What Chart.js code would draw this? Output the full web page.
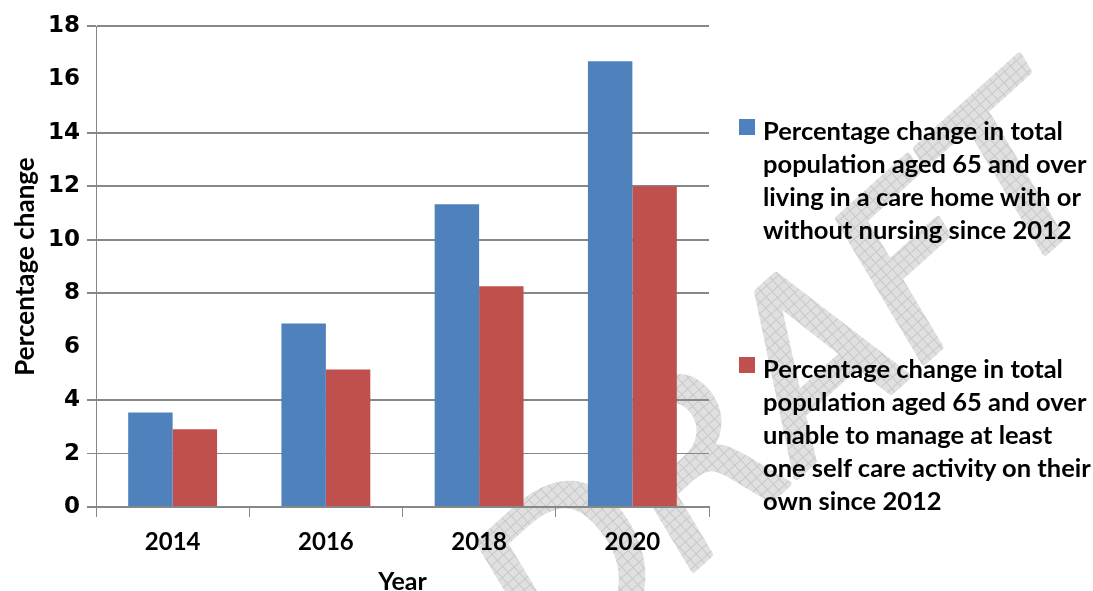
<!DOCTYPE html>
<html>
<head>
<meta charset="utf-8">
<title>Population aged 65 and over - percentage change since 2012</title>
<script src="https://cdn.jsdelivr.net/npm/chart.js@4.4.1/dist/chart.umd.min.js"></script>
<style>
    html, body { margin: 0; padding: 0; background: #fff; }
    #wrap { position: relative; width: 1093px; height: 591px; overflow: hidden; }
    #legend { position: absolute; left: 0; top: 0; font-family: Lato, sans-serif; font-weight: bold; font-size: 25.5px; line-height: 33px; color: #000; }
    .legend-item { position: absolute; left: 763px; white-space: nowrap; }
    .legend-swatch { position: absolute; width: 16px; height: 16px; left: -24px; top: 5px; }
</style>
</head>
<body>
<div id="wrap">
    <canvas id="careChart" width="1093" height="591"></canvas>
    <div id="legend"></div>
</div>
<script>
const years = ['2014', '2016', '2018', '2020'];
const careHomeChange = [3.54, 6.87, 11.33, 16.68];
const selfCareChange = [2.91, 5.15, 8.26, 12.0];
const yTickValues = [0, 2, 4, 6, 8, 10, 12, 14, 16, 18];

// series names, one entry per legend line
const careHomeLabel = [
    'Percentage change in total',
    'population aged 65 and over',
    'living in a care home with or',
    'without nursing since 2012'
];
const selfCareLabel = [
    'Percentage change in total',
    'population aged 65 and over',
    'unable to manage at least',
    'one self care activity on their',
    'own since 2012'
];

const axisGrey = '#878787';

// faint crosshatched "DRAFT" stamp behind the plot
function makeHatch() {
    const c = document.createElement('canvas');
    c.width = 8; c.height = 8;
    const g = c.getContext('2d');
    g.fillStyle = '#e0e0e0';
    g.fillRect(0, 0, 8, 8);
    g.fillStyle = '#c8c8c8';
    g.fillRect(0, 0, 8, 1);
    g.fillRect(0, 0, 1, 8);
    return c;
}

const draftStamp = {
    id: 'draftStamp',
    beforeDraw(chart) {
        const ctx = chart.ctx;
        ctx.save();
        ctx.fillStyle = '#fff';
        ctx.fillRect(0, 0, chart.width, chart.height);
        const pattern = ctx.createPattern(makeHatch(), 'repeat');
        ctx.translate(800, 395);
        ctx.rotate(-42 * Math.PI / 180);
        ctx.font = 'italic 225px "DejaVu Sans"';
        ctx.textAlign = 'center';
        ctx.textBaseline = 'middle';
        ctx.lineJoin = 'round';
        ctx.lineWidth = 6;
        ctx.fillStyle = pattern;
        ctx.strokeStyle = pattern;
        ctx.strokeText('DRAFT', 0, 0);
        ctx.fillText('DRAFT', 0, 0);
        ctx.restore();
    }
};

// gridline weights per tick value
function gridWidth(ctx) {
    const v = ctx.tick ? ctx.tick.value : 0;
    if (v === 6 || v === 16) return 0;
    return v === 2 ? 1 : 2;
}

const chart = new Chart(document.getElementById('careChart'), {
    type: 'bar',
    data: {
        labels: years,
        datasets: [
            {
                label: careHomeLabel,
                data: careHomeChange,
                backgroundColor: '#4F81BD',
                categoryPercentage: 0.58,
                barPercentage: 1.0
            },
            {
                label: selfCareLabel,
                data: selfCareChange,
                backgroundColor: '#C0504D',
                categoryPercentage: 0.58,
                barPercentage: 1.0
            }
        ]
    },
    options: {
        responsive: false,
        animation: false,
        layout: { padding: { top: 26, right: 384, left: 0, bottom: 0 } },
        plugins: {
            legend: { display: false },
            tooltip: { enabled: false }
        },
        scales: {
            x: {
                grid: {
                    drawOnChartArea: false,
                    drawTicks: true,
                    tickLength: 10,
                    color: axisGrey,
                    lineWidth: 1
                },
                border: { display: true, color: axisGrey, width: 2 },
                ticks: {
                    color: '#000',
                    padding: 11,
                    font: { family: 'Lato', size: 24, weight: 'bold' }
                },
                title: {
                    display: true,
                    text: 'Year',
                    color: '#000',
                    font: { family: 'Lato', size: 25, weight: 'bold', lineHeight: 1.2 },
                    padding: { top: 0, bottom: -6 }
                },
                afterFit(scale) { scale.height = 84; }
            },
            y: {
                min: 0,
                max: 18,
                afterBuildTicks(scale) {
                    scale.ticks = yTickValues.map(v => ({ value: v }));
                },
                grid: {
                    color: axisGrey,
                    lineWidth: gridWidth,
                    drawTicks: true,
                    tickLength: 9
                },
                border: { display: true, color: axisGrey, width: 1 },
                ticks: {
                    color: '#000',
                    padding: 7,
                    font: { family: 'DejaVu Sans', size: 23, weight: 'bold' }
                },
                title: {
                    display: true,
                    text: 'Percentage change',
                    color: '#000',
                    font: { family: 'Lato', size: 26, weight: 'bold', lineHeight: 1.2 },
                    padding: { top: 10, bottom: 0 }
                },
                afterFit(scale) { scale.width = 96; }
            }
        }
    },
    plugins: [draftStamp]
});

// html legend built from the chart's datasets
const legendEl = document.getElementById('legend');
const legendTops = [114, 352];
chart.data.datasets.forEach((ds, i) => {
    const item = document.createElement('div');
    item.className = 'legend-item';
    item.style.top = legendTops[i] + 'px';
    const sw = document.createElement('span');
    sw.className = 'legend-swatch';
    sw.style.background = ds.backgroundColor;
    item.appendChild(sw);
    ds.label.forEach((line, j) => {
        if (j > 0) item.appendChild(document.createElement('br'));
        item.appendChild(document.createTextNode(line));
    });
    legendEl.appendChild(item);
});
</script>
</body>
</html>
